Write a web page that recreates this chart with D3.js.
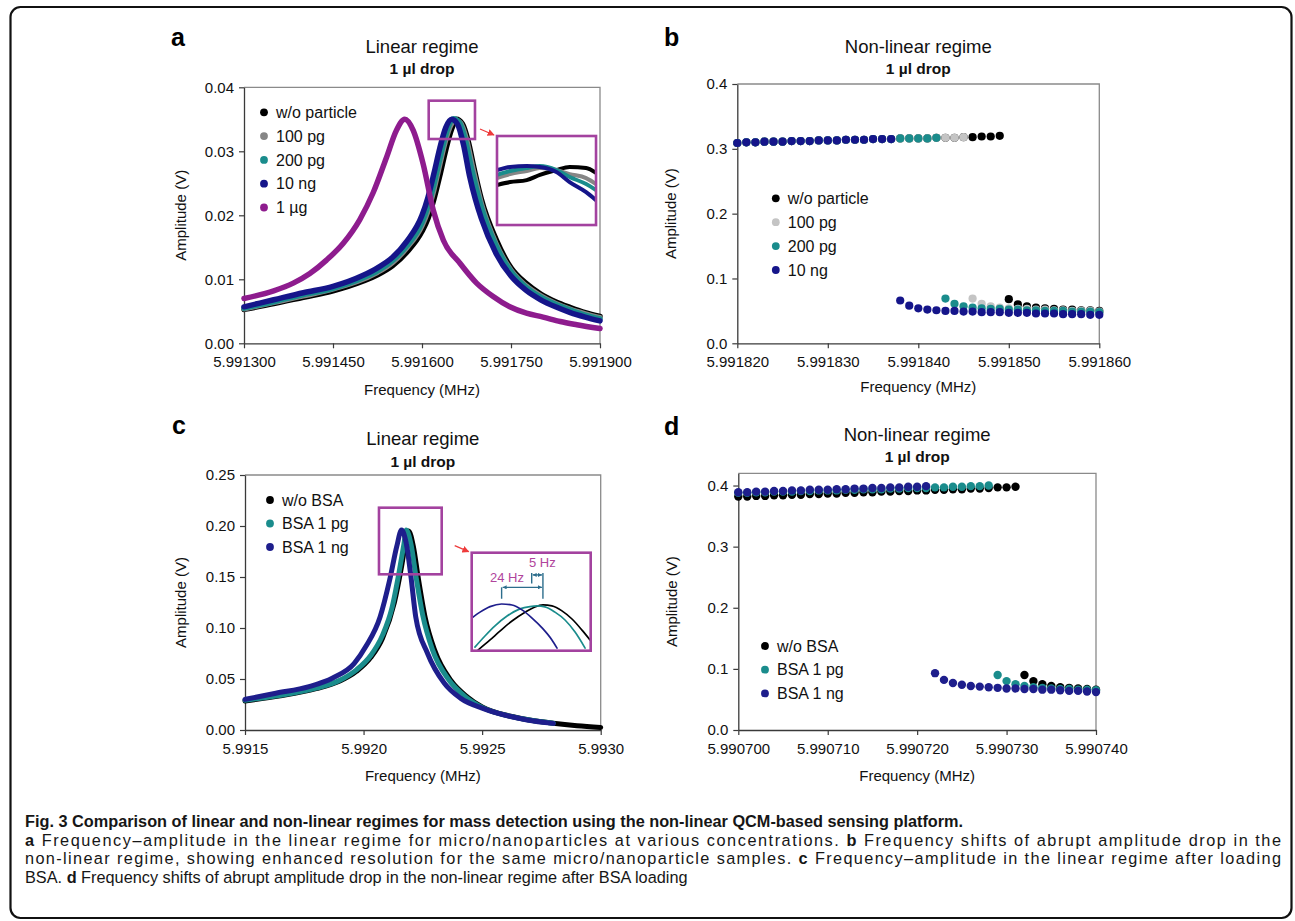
<!DOCTYPE html>
<html>
<head>
<meta charset="utf-8">
<script src="https://cdn.jsdelivr.net/npm/d3@7"></script>
<style>
  body { margin: 0; background: #fff; }
  svg { display: block; }
</style>
</head>
<body>
<script>
// Fig. 3 - linear vs non-linear regime, four panels + caption

// ---- panel a : linear regime, particles (freq MHz, amplitude V) ----
const aNames = ["w/o particle", "100 pg", "200 pg", "10 ng", "1 \u00b5g"];
const aColors = ["#000000", "#868686", "#1a8c8c", "#15158a", "#8e1c8e"];
const aWoParticle = [[5.991300,0.0053],[5.991350,0.0062],[5.991400,0.0072],[5.991450,0.0082],[5.991500,0.0097],[5.991525,0.0107],[5.991550,0.0121],[5.991575,0.0143],[5.991600,0.0175],[5.991610,0.0195],[5.991620,0.0225],[5.991630,0.0262],[5.991640,0.0302],[5.991650,0.0335],[5.991658,0.0350],[5.991668,0.0343],[5.991678,0.0315],[5.991688,0.0272],[5.991700,0.0225],[5.991725,0.0162],[5.991750,0.0118],[5.991775,0.0094],[5.991800,0.0077],[5.991825,0.0065],[5.991850,0.0056],[5.991875,0.0048],[5.991900,0.0042]];
const a100pg = [[5.991300,0.0054],[5.991350,0.0064],[5.991400,0.0074],[5.991450,0.0085],[5.991500,0.0100],[5.991525,0.0111],[5.991550,0.0126],[5.991575,0.0150],[5.991600,0.0184],[5.991610,0.0207],[5.991620,0.0240],[5.991630,0.0280],[5.991640,0.0318],[5.991648,0.0340],[5.991655,0.0349],[5.991665,0.0344],[5.991675,0.0318],[5.991685,0.0276],[5.991700,0.0218],[5.991725,0.0155],[5.991750,0.0114],[5.991775,0.0090],[5.991800,0.0074],[5.991825,0.0062],[5.991850,0.0053],[5.991875,0.0046],[5.991900,0.0040]];
const a200pg = [[5.991300,0.0055],[5.991350,0.0065],[5.991400,0.0076],[5.991450,0.0086],[5.991500,0.0102],[5.991525,0.0113],[5.991550,0.0129],[5.991575,0.0153],[5.991600,0.0189],[5.991610,0.0214],[5.991620,0.0248],[5.991630,0.0288],[5.991640,0.0325],[5.991646,0.0342],[5.991653,0.0351],[5.991663,0.0345],[5.991673,0.0318],[5.991683,0.0275],[5.991700,0.0213],[5.991725,0.0152],[5.991750,0.0112],[5.991775,0.0088],[5.991800,0.0072],[5.991825,0.0061],[5.991850,0.0052],[5.991875,0.0044],[5.991900,0.0038]];
const a10ng = [[5.991300,0.0057],[5.991350,0.0068],[5.991400,0.0079],[5.991450,0.0089],[5.991500,0.0106],[5.991525,0.0118],[5.991550,0.0134],[5.991575,0.0160],[5.991600,0.0200],[5.991610,0.0228],[5.991620,0.0265],[5.991630,0.0305],[5.991640,0.0337],[5.991650,0.0350],[5.991660,0.0342],[5.991670,0.0310],[5.991680,0.0262],[5.991690,0.0225],[5.991700,0.0195],[5.991725,0.0140],[5.991750,0.0105],[5.991775,0.0083],[5.991800,0.0068],[5.991825,0.0057],[5.991850,0.0048],[5.991875,0.0041],[5.991900,0.0035]];
const a1ug = [[5.991300,0.0070],[5.991350,0.0082],[5.991383,0.0094],[5.991411,0.0109],[5.991439,0.0130],[5.991467,0.0156],[5.991495,0.0193],[5.991518,0.0236],[5.991540,0.0290],[5.991557,0.0333],[5.991571,0.0350],[5.991585,0.0333],[5.991602,0.0280],[5.991619,0.0208],[5.991636,0.0161],[5.991664,0.0125],[5.991692,0.0094],[5.991720,0.0073],[5.991748,0.0057],[5.991776,0.0047],[5.991804,0.0041],[5.991833,0.0034],[5.991861,0.0029],[5.991900,0.0023]];
// magnified peak shown in the inset of a
const aInsetWo = [[5.991640,0.03380],[5.991644,0.03393],[5.991649,0.03402],[5.991653,0.03425],[5.991658,0.03447],[5.991662,0.03461],[5.991667,0.03456],[5.991670,0.03434]];
const aInset100 = [[5.991640,0.03411],[5.991644,0.03429],[5.991649,0.03443],[5.991653,0.03456],[5.991658,0.03447],[5.991662,0.03429],[5.991667,0.03411],[5.991670,0.03384]];
const aInset200 = [[5.991640,0.03425],[5.991644,0.03443],[5.991649,0.03456],[5.991653,0.03465],[5.991658,0.03447],[5.991662,0.03416],[5.991667,0.03384],[5.991670,0.03357]];
const aInset10ng = [[5.991640,0.03447],[5.991644,0.03461],[5.991649,0.03465],[5.991653,0.03461],[5.991658,0.03438],[5.991662,0.03393],[5.991667,0.03348],[5.991670,0.03312]];
const aTicksX = [5.991300, 5.991450, 5.991600, 5.991750, 5.991900];
const aTicksY = [0, 0.01, 0.02, 0.03, 0.04];

// ---- panel b : non-linear regime, particles (1 Hz sweep steps) ----
const bNames = ["w/o particle", "100 pg", "200 pg", "10 ng"];
const bColors = ["#000000", "#c4c4c4", "#1a8c8c", "#15158a"];
const freqB = [5.991820,5.991821,5.991822,5.991823,5.991824,5.991825,5.991826,5.991827,5.991828,5.991829,5.991830,5.991831,5.991832,5.991833,5.991834,5.991835,5.991836,5.991837,5.991838,5.991839,5.991840,5.991841,5.991842,5.991843,5.991844,5.991845,5.991846,5.991847,5.991848,5.991849,5.991850,5.991851,5.991852,5.991853,5.991854,5.991855,5.991856,5.991857,5.991858,5.991859,5.991860];
const bWoParticle = [0.309,0.310,0.310,0.311,0.311,0.311,0.312,0.312,0.312,0.313,0.313,0.313,0.314,0.314,0.314,0.315,0.315,0.315,0.316,0.316,0.316,0.316,0.317,0.317,0.317,0.318,0.318,0.319,0.319,0.320,0.068,0.060,0.057,0.055,0.054,0.053,0.052,0.052,0.051,0.051,0.050];
const b100pg = [0.309,0.310,0.310,0.311,0.311,0.311,0.312,0.312,0.312,0.313,0.313,0.313,0.314,0.314,0.314,0.315,0.315,0.315,0.316,0.316,0.316,0.316,0.317,0.317,0.317,0.318,0.069,0.061,0.057,0.055,0.054,0.053,0.053,0.052,0.052,0.051,0.051,0.050,0.050,0.050,0.049];
const b200pg = [0.309,0.310,0.310,0.311,0.311,0.311,0.312,0.312,0.312,0.313,0.313,0.313,0.314,0.314,0.314,0.315,0.315,0.315,0.316,0.316,0.316,0.316,0.317,0.069,0.061,0.057,0.055,0.054,0.053,0.053,0.052,0.052,0.051,0.051,0.050,0.050,0.050,0.049,0.049,0.049,0.048];
const b10ng = [0.309,0.310,0.310,0.311,0.311,0.311,0.312,0.312,0.312,0.313,0.313,0.313,0.314,0.314,0.314,0.315,0.315,0.315,0.066,0.058,0.054,0.052,0.051,0.050,0.050,0.049,0.049,0.048,0.048,0.048,0.047,0.047,0.047,0.046,0.046,0.046,0.045,0.045,0.045,0.044,0.044];
const bTicksX = [5.991820, 5.991830, 5.991840, 5.991850, 5.991860];
const bTicksY = [0, 0.1, 0.2, 0.3, 0.4];

// ---- panel c : linear regime, BSA ----
const cNames = ["w/o BSA", "BSA 1 pg", "BSA 1 ng"];
const cColors = ["#000000", "#1a8c8c", "#1e1e8c"];
const cWoBSA = [[5.99150,0.0285],[5.99165,0.0335],[5.99180,0.0405],[5.99190,0.0480],[5.99197,0.0575],[5.99203,0.0710],[5.99208,0.0900],[5.99213,0.1250],[5.99216,0.1600],[5.99218,0.1870],[5.99219,0.1950],[5.99221,0.1800],[5.99223,0.1500],[5.99226,0.1100],[5.99230,0.0780],[5.99237,0.0480],[5.99244,0.0320],[5.99250,0.0225],[5.99262,0.0135],[5.99270,0.0098],[5.99280,0.0066],[5.99290,0.0042],[5.99300,0.0025]];
const cBSA1pg = [[5.99150,0.0292],[5.99165,0.0340],[5.99180,0.0410],[5.99190,0.0488],[5.99197,0.0590],[5.99203,0.0730],[5.99208,0.0930],[5.99212,0.1200],[5.99215,0.1550],[5.99217,0.1820],[5.99218,0.1960],[5.99220,0.1820],[5.99222,0.1520],[5.99225,0.1120],[5.99229,0.0790],[5.99236,0.0490],[5.99243,0.0325],[5.99250,0.0222],[5.99262,0.0134],[5.99270,0.0098],[5.99280,0.0066]];
const cBSA1ng = [[5.99150,0.0300],[5.99163,0.0360],[5.99177,0.0425],[5.99187,0.0510],[5.99196,0.0650],[5.99201,0.0820],[5.99207,0.1110],[5.99211,0.1470],[5.99214,0.1800],[5.99216,0.1960],[5.99218,0.1830],[5.99220,0.1500],[5.99222,0.1110],[5.99227,0.0750],[5.99234,0.0460],[5.99241,0.0310],[5.99250,0.0215],[5.99262,0.0132],[5.99269,0.0098],[5.99280,0.0065]];
// magnified peaks in the inset of c
const cInsetWo = [[5.9921437,0.1702],[5.9921508,0.1733],[5.9921566,0.1760],[5.9921637,0.1791],[5.9921714,0.1818],[5.9921772,0.1834],[5.9921819,0.1840],[5.9921872,0.1837],[5.9921931,0.1822],[5.9921990,0.1797],[5.9922049,0.1763],[5.9922096,0.1733]];
const cInset1pg = [[5.9921419,0.1711],[5.9921478,0.1745],[5.9921537,0.1776],[5.9921608,0.1806],[5.9921684,0.1828],[5.9921743,0.1835],[5.9921784,0.1837],[5.9921831,0.1834],[5.9921890,0.1818],[5.9921949,0.1794],[5.9922008,0.1757],[5.9922067,0.1708]];
const cInset1ng = [[5.9921400,0.1800],[5.9921449,0.1818],[5.9921508,0.1835],[5.9921576,0.1843],[5.9921637,0.1840],[5.9921696,0.1825],[5.9921755,0.1800],[5.9921814,0.1770],[5.9921872,0.1733],[5.9921902,0.1708]];
const cShifts = [
  { label: "24 Hz", from: 5.9921576, to: 5.9921819 },
  { label: "5 Hz", from: 5.9921753, to: 5.9921819 }
];
const cTicksX = [5.9915, 5.9920, 5.9925, 5.9930];
const cTicksY = [0, 0.05, 0.10, 0.15, 0.20, 0.25];

// ---- panel d : non-linear regime, BSA ----
const dNames = ["w/o BSA", "BSA 1 pg", "BSA 1 ng"];
const dColors = ["#000000", "#1a8c8c", "#1e1e8c"];
const freqD = [5.990700,5.990701,5.990702,5.990703,5.990704,5.990705,5.990706,5.990707,5.990708,5.990709,5.990710,5.990711,5.990712,5.990713,5.990714,5.990715,5.990716,5.990717,5.990718,5.990719,5.990720,5.990721,5.990722,5.990723,5.990724,5.990725,5.990726,5.990727,5.990728,5.990729,5.990730,5.990731,5.990732,5.990733,5.990734,5.990735,5.990736,5.990737,5.990738,5.990739,5.990740];
const dWoBSA = [0.382,0.382,0.383,0.383,0.384,0.384,0.385,0.385,0.386,0.386,0.387,0.387,0.388,0.388,0.389,0.389,0.390,0.390,0.391,0.391,0.392,0.392,0.393,0.393,0.394,0.394,0.395,0.395,0.396,0.397,0.397,0.398,0.090,0.080,0.075,0.072,0.070,0.069,0.068,0.067,0.066];
const dBSA1pg = [0.388,0.388,0.389,0.389,0.390,0.390,0.390,0.391,0.391,0.392,0.392,0.392,0.393,0.393,0.394,0.394,0.394,0.395,0.395,0.396,0.396,0.396,0.397,0.397,0.398,0.398,0.399,0.399,0.400,0.090,0.080,0.075,0.072,0.070,0.069,0.068,0.067,0.067,0.066,0.066,0.065];
const dBSA1ng = [0.389,0.389,0.390,0.390,0.391,0.391,0.392,0.392,0.393,0.393,0.393,0.394,0.394,0.395,0.395,0.396,0.396,0.397,0.397,0.398,0.398,0.399,0.093,0.082,0.077,0.074,0.072,0.071,0.070,0.069,0.068,0.068,0.067,0.067,0.066,0.066,0.065,0.064,0.064,0.063,0.062];
const dTicksX = [5.990700, 5.990710, 5.990720, 5.990730, 5.990740];
const dTicksY = [0, 0.1, 0.2, 0.3, 0.4];

const captionLines = [
  [["Fig. 3 Comparison of linear and non-linear regimes for mass detection using the non-linear QCM-based sensing platform.", true]],
  [["a", true], [" Frequency\u2013amplitude in the linear regime for micro/nanoparticles at various concentrations. ", false], ["b", true], [" Frequency shifts of abrupt amplitude drop in the", false]],
  [["non-linear regime, showing enhanced resolution for the same micro/nanoparticle samples. ", false], ["c", true], [" Frequency\u2013amplitude in the linear regime after loading", false]],
  [["BSA. ", false], ["d", true], [" Frequency shifts of abrupt amplitude drop in the non-linear regime after BSA loading", false]]
];

// ---------------------------------------------------------------
const width = 1295, height = 921;
const FONT = "'Liberation Sans', Arial, Helvetica, sans-serif";
const BOX = "#a3429f";

const svg = d3.select("body").append("svg")
    .attr("width", width)
    .attr("height", height)
    .attr("font-family", FONT);

const defs = svg.append("defs");
defs.append("marker").attr("id", "redArrow")
    .attr("viewBox", "0 0 10 10").attr("refX", 9).attr("refY", 5)
    .attr("markerWidth", 7).attr("markerHeight", 7).attr("markerUnits", "userSpaceOnUse")
    .attr("orient", "auto")
    .append("path").attr("d", "M0,0L10,5L0,10z").attr("fill", "#ee3b3b");
defs.append("marker").attr("id", "tinyArrow")
    .attr("viewBox", "0 0 10 10").attr("refX", 10).attr("refY", 5)
    .attr("markerWidth", 4).attr("markerHeight", 4).attr("markerUnits", "userSpaceOnUse")
    .attr("orient", "auto-start-reverse")
    .append("path").attr("d", "M0,0L10,5L0,10z").attr("fill", "#2c6d8c");

// outer rounded frame
svg.append("rect")
    .attr("x", 10.5).attr("y", 7).attr("width", 1281).attr("height", 911)
    .attr("rx", 10).attr("fill", "none").attr("stroke", "#111").attr("stroke-width", 2.2);

function panel(o) {
    const x = d3.scaleLinear().domain(o.xDomain).range([o.left, o.right]);
    const y = d3.scaleLinear().domain(o.yDomain).range([o.bottom, o.top]);
    const g = svg.append("g");

    // plot area border (top/right)
    g.append("path")
        .attr("d", `M${o.left},${o.top}H${o.right}V${o.bottom}`)
        .attr("fill", "none").attr("stroke", "#8a8a8a").attr("stroke-width", 1.3);

    const ax = g.append("g").attr("transform", `translate(0,${o.bottom})`)
        .call(d3.axisBottom(x).tickValues(o.xTicks).tickFormat(d3.format(o.xFmt))
            .tickSize(5).tickSizeOuter(0).tickPadding(8));
    const ay = g.append("g").attr("transform", `translate(${o.left},0)`)
        .call(d3.axisLeft(y).tickValues(o.yTicks).tickFormat(d3.format(o.yFmt))
            .tickSize(5).tickSizeOuter(0).tickPadding(5));
    [ax, ay].forEach(a => {
        a.attr("font-family", null).attr("font-size", null);
        a.select(".domain").attr("stroke", "#3a3a3a").attr("stroke-width", 1.3);
        a.selectAll(".tick line").attr("stroke", "#3a3a3a").attr("stroke-width", 1.2);
        a.selectAll(".tick text").attr("font-size", 15).attr("fill", "#111");
    });

    const cx = (o.left + o.right) / 2;
    g.append("text").attr("x", cx).attr("y", o.titleY).attr("text-anchor", "middle")
        .attr("font-size", 18.5).attr("fill", "#111").text(o.title);
    g.append("text").attr("x", cx).attr("y", o.titleY + 21.6).attr("text-anchor", "middle")
        .attr("font-size", 15.5).attr("font-weight", "bold").attr("fill", "#111").text("1 \u00b5l drop");
    g.append("text").attr("x", o.letter[0]).attr("y", o.letter[1])
        .attr("font-size", 25).attr("font-weight", "bold").attr("fill", "#000").text(o.letterText);
    g.append("text").attr("x", cx).attr("y", o.xLabelY).attr("text-anchor", "middle")
        .attr("font-size", 15).attr("fill", "#111").text("Frequency (MHz)");
    g.append("text")
        .attr("transform", `translate(${o.yLabelX},${(o.top + o.bottom) / 2}) rotate(-90)`)
        .attr("text-anchor", "middle").attr("font-size", 15).attr("fill", "#111").text("Amplitude (V)");

    // legend
    const lg = g.append("g");
    o.names.forEach((n, i) => {
        const ly = o.top + o.legend.dy + i * o.legend.step;
        lg.append("circle").attr("cx", o.left + o.legend.dx).attr("cy", ly).attr("r", 3.9)
            .attr("fill", o.colors[i]);
        lg.append("text").attr("x", o.left + o.legend.dx + 12).attr("y", ly).attr("dy", "0.36em")
            .attr("font-size", 16).attr("fill", "#111").text(n);
    });
    return { x, y, g };
}

const line = (x, y) => d3.line().x(d => x(d[0])).y(d => y(d[1])).curve(d3.curveMonotoneX);

function drawCurves(p, series, colors, w) {
    const ln = line(p.x, p.y);
    series.forEach((s, i) => {
        p.g.append("path").datum(s)
            .attr("fill", "none").attr("stroke", colors[i]).attr("stroke-width", w)
            .attr("stroke-linecap", "round").attr("stroke-linejoin", "round")
            .attr("d", ln);
    });
}

function drawDots(p, freq, series, colors, r) {
    series.forEach((s, i) => {
        p.g.append("g").selectAll("circle")
            .data(s.map((v, k) => [freq[k], v]))
            .join("circle")
            .attr("cx", d => p.x(d[0])).attr("cy", d => p.y(d[1])).attr("r", r)
            .attr("fill", colors[i]);
    });
}

// zoom box + arrow + inset frame; returns inset scales
function inset(p, zoom, box, xDom, yDom, id) {
    const zx0 = p.x(zoom[0]), zx1 = p.x(zoom[1]), zy0 = p.y(zoom[3]), zy1 = p.y(zoom[2]);
    p.g.append("rect").attr("x", zx0).attr("y", zy0).attr("width", zx1 - zx0).attr("height", zy1 - zy0)
        .attr("fill", "none").attr("stroke", BOX).attr("stroke-width", 2.6);
    const bx0 = p.x(box[0]), bx1 = p.x(box[1]), by0 = p.y(box[3]), by1 = p.y(box[2]);
    p.g.append("line")
        .attr("x1", bx0 - 17).attr("y1", by0 - 7).attr("x2", bx0 - 3).attr("y2", by0 - 1)
        .attr("stroke", "#ee3b3b").attr("stroke-width", 1.3).attr("marker-end", "url(#redArrow)");
    p.g.append("rect").attr("x", bx0).attr("y", by0).attr("width", bx1 - bx0).attr("height", by1 - by0)
        .attr("fill", "#fff");
    defs.append("clipPath").attr("id", id)
        .append("rect").attr("x", bx0).attr("y", by0).attr("width", bx1 - bx0).attr("height", by1 - by0);
    const ix = d3.scaleLinear().domain(xDom).range([bx0, bx1]);
    const iy = d3.scaleLinear().domain(yDom).range([by1, by0]);
    const ig = p.g.append("g").attr("clip-path", `url(#${id})`);
    const frame = () => p.g.append("rect").attr("x", bx0).attr("y", by0)
        .attr("width", bx1 - bx0).attr("height", by1 - by0)
        .attr("fill", "none").attr("stroke", BOX).attr("stroke-width", 2.6);
    return { x: ix, y: iy, g: ig, frame };
}

// ---------------- panel a ----------------
const pa = panel({
    left: 244, right: 600, top: 87.3, bottom: 343.3,
    xDomain: [5.9913, 5.9919], yDomain: [0, 0.04],
    xTicks: aTicksX, yTicks: aTicksY, xFmt: ".6f", yFmt: ".2f",
    title: "Linear regime", titleY: 52.7, letter: [171, 45.5], letterText: "a",
    xLabelY: 395, yLabelX: 185.7,
    names: aNames, colors: aColors, legend: { dx: 20, dy: 25, step: 23.8 }
});
drawCurves(pa, [aWoParticle, a100pg, a200pg, a10ng, a1ug], aColors, 5.5);
const ia = inset(pa, [5.9916113, 5.9916893, 0.03192, 0.03791],
    [5.9917264, 5.9918933, 0.01848, 0.03239],
    [5.991640, 5.991670], [0.0320, 0.0360], "clipA");
drawCurves(ia, [aInsetWo, aInset100, aInset200, aInset10ng], aColors, 4);
ia.frame();

// ---------------- panel b ----------------
const pb = panel({
    left: 737.3, right: 1099.3, top: 84, bottom: 343.3,
    xDomain: [5.991820, 5.991860], yDomain: [0, 0.4],
    xTicks: bTicksX, yTicks: bTicksY, xFmt: ".6f", yFmt: ".1f",
    title: "Non-linear regime", titleY: 52.7, letter: [664, 46], letterText: "b",
    xLabelY: 392.3, yLabelX: 675.7,
    names: bNames, colors: bColors, legend: { dx: 38.5, dy: 114.3, step: 23.9 }
});
drawDots(pb, freqB, [bWoParticle, b100pg, b200pg, b10ng], bColors, 4.1);

// ---------------- panel c ----------------
const pc = panel({
    left: 245, right: 600.7, top: 475, bottom: 730,
    xDomain: [5.9915, 5.9930], yDomain: [0, 0.25],
    xTicks: cTicksX, yTicks: cTicksY, xFmt: ".4f", yFmt: ".2f",
    title: "Linear regime", titleY: 445, letter: [172, 434], letterText: "c",
    xLabelY: 781.3, yLabelX: 185.7,
    names: cNames, colors: cColors, legend: { dx: 25, dy: 25, step: 23.5 }
});
drawCurves(pc, [cWoBSA, cBSA1pg, cBSA1ng], cColors, 5);
const ic = inset(pc, [5.992065, 5.9923295, 0.15265, 0.21794],
    [5.992456, 5.9929578, 0.07775, 0.17382],
    [5.99214, 5.99221], [0.170, 0.200], "clipC");
drawCurves(ic, [cInsetWo, cInset1pg, cInset1ng], cColors, 1.7);
// frequency-shift brackets
{
    const s24 = cShifts[0], s5 = cShifts[1];
    const yl24 = ic.y(0.1894), yl5 = ic.y(0.1932), yLow = ic.y(0.1859), yTop = ic.y(0.1938);
    const bg = pc.g.append("g").attr("stroke", "#2c6d8c").attr("stroke-width", 1.4).attr("fill", "none");
    bg.append("line").attr("x1", ic.x(s24.from)).attr("x2", ic.x(s24.from)).attr("y1", yl24).attr("y2", yLow);
    bg.append("line").attr("x1", ic.x(s24.to)).attr("x2", ic.x(s24.to)).attr("y1", yTop).attr("y2", yLow);
    bg.append("line").attr("x1", ic.x(s5.from)).attr("x2", ic.x(s5.from)).attr("y1", yTop).attr("y2", ic.y(0.1906));
    bg.append("line").attr("x1", ic.x(s24.from) + 1).attr("x2", ic.x(s24.to) - 1).attr("y1", yl24).attr("y2", yl24)
        .attr("marker-start", "url(#tinyArrow)").attr("marker-end", "url(#tinyArrow)");
    bg.append("line").attr("x1", ic.x(s5.from) + 1).attr("x2", ic.x(s5.to) - 1).attr("y1", yl5).attr("y2", yl5)
        .attr("marker-start", "url(#tinyArrow)").attr("marker-end", "url(#tinyArrow)");
    pc.g.append("text").attr("x", ic.x(s24.to) - 19).attr("y", yl24 - 5.5).attr("text-anchor", "end")
        .attr("font-size", 13).attr("fill", "#b0449c").text(s24.label);
    pc.g.append("text").attr("x", ic.x(s5.from) - 2.7).attr("y", yl5 - 8.3)
        .attr("font-size", 13).attr("fill", "#b0449c").text(s5.label);
}
ic.frame();

// ---------------- panel d ----------------
const pd = panel({
    left: 738.3, right: 1096, top: 473.3, bottom: 730,
    xDomain: [5.990700, 5.990740], yDomain: [0, 0.42],
    xTicks: dTicksX, yTicks: dTicksY, xFmt: ".6f", yFmt: ".1f",
    title: "Non-linear regime", titleY: 440.7, letter: [664, 435], letterText: "d",
    xLabelY: 781.3, yLabelX: 676.7,
    names: dNames, colors: dColors, legend: { dx: 26.7, dy: 172.7, step: 23.7 }
});
drawDots(pd, freqD, [dWoBSA, dBSA1pg, dBSA1ng], dColors, 4.2);

// ---------------- caption ----------------
const cap = svg.append("g").attr("font-family", FONT).attr("fill", "#161616");
const capBase = [827, 845.5, 864, 882.5];
const capRight = 1281;
const capTexts = captionLines.map((parts, i) => {
    const t = cap.append("text").attr("x", 25).attr("y", capBase[i]).attr("font-size", 16);
    parts.forEach(([s, b]) => t.append("tspan").attr("font-weight", b ? 700 : 400).text(s));
    return t;
});
// size the body text so the full-width line fits, then justify the full lines
const natural = capTexts[1].node().getComputedTextLength();
const capSize = Math.min(16.3, 16 * (capRight - 25) / natural);
capTexts.forEach(t => t.attr("font-size", capSize));
[1, 2].forEach(i => capTexts[i].attr("textLength", capRight - 25).attr("lengthAdjust", "spacing"));
</script>
</body>
</html>
